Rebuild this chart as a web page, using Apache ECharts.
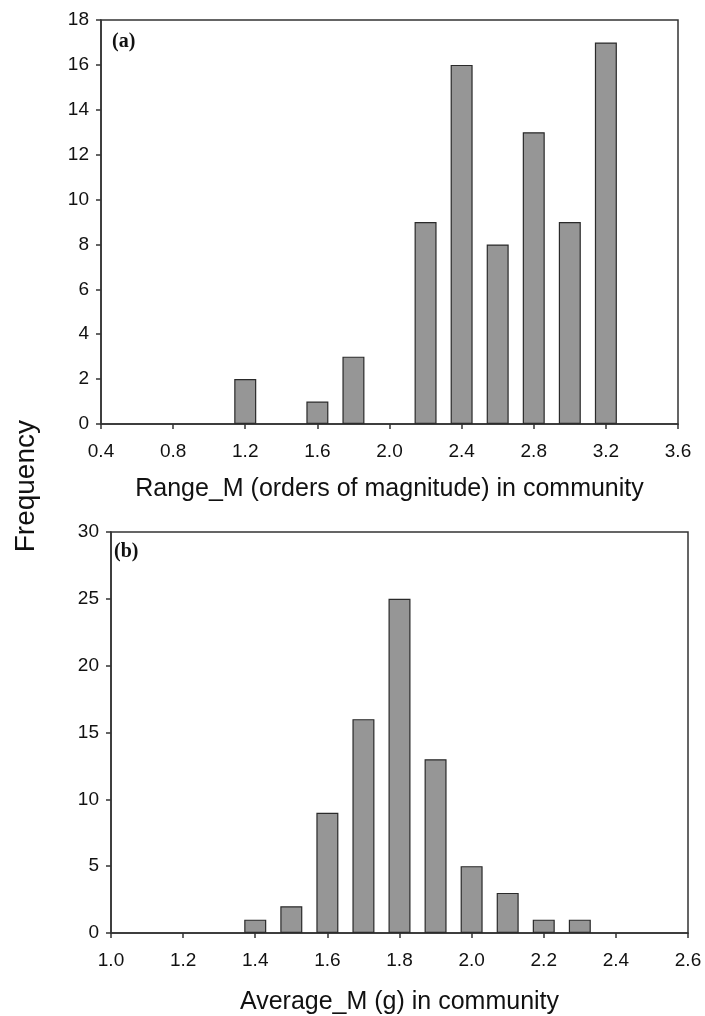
<!DOCTYPE html>
<html><head><meta charset="utf-8">
<script src="https://cdn.jsdelivr.net/npm/echarts@6/dist/echarts.min.js"></script>
<style>html,body{margin:0;padding:0;background:#fff}#c{width:705px;height:1016px}</style>
</head><body><div id="c"></div>
<script>
// Panel (a): Range_M
const rangeBins = [1.2, 1.6, 1.8, 2.2, 2.4, 2.6, 2.8, 3.0, 3.2];
const rangeFreq = [2, 1, 3, 9, 16, 8, 13, 9, 17];
// Panel (b): Average_M
const avgBins = [1.4, 1.5, 1.6, 1.7, 1.8, 1.9, 2.0, 2.1, 2.2, 2.3];
const avgFreq = [1, 2, 9, 16, 25, 13, 5, 3, 1, 1];

const chart = echarts.init(document.getElementById('c'), null, {renderer: 'canvas'});
const FONT = 'Liberation Sans, Arial, sans-serif';
const axisLine = {lineStyle: {color: '#333', width: 1.5}};
const tickStyle = {show: true, inside: false, length: 5, lineStyle: {color: '#333', width: 1.5}};
const labelFont = {color: '#111', fontSize: 19, fontFamily: FONT};
function xAx(i, min, max, interval, name, gap) {
  return {type: 'value', gridIndex: i, min, max, interval,
    axisLine: Object.assign({onZero: false}, axisLine), axisTick: tickStyle,
    axisLabel: Object.assign({margin: 18, formatter: v => v.toFixed(1)}, labelFont),
    splitLine: {show: false},
    name, nameLocation: 'middle', nameGap: gap,
    nameTextStyle: {color: '#111', fontSize: 25, fontFamily: FONT}};
}
function yAx(i, max, interval) {
  return {type: 'value', gridIndex: i, min: 0, max, interval,
    axisLine: Object.assign({show: true}, axisLine), axisTick: tickStyle,
    axisLabel: Object.assign({margin: 12}, labelFont), splitLine: {show: false}};
}
const barStyle = {color: '#969696', borderColor: '#2a2a2a', borderWidth: 1.2};
chart.setOption({
  animation: false,
  grid: [
    {left: 101, top: 20, width: 577, height: 404, show: true, borderColor: '#333', borderWidth: 1.5},
    {left: 111, top: 532, width: 577, height: 404, show: true, borderColor: '#333', borderWidth: 1.5}
  ],
  xAxis: [
    xAx(0, 0.4, 3.6, 0.4, 'Range_M (orders of magnitude) in community', 53),
    xAx(1, 1.0, 2.6, 0.2, 'Average_M (g) in community', 57)
  ],
  yAxis: [yAx(0, 18, 2), yAx(1, 30, 5)],
  graphic: [
    {type: 'text', left: 12, top: 420, rotation: Math.PI / 2, style: {text: 'Frequency', fill: '#111', font: '28px "Liberation Sans", Arial, sans-serif'}},
    {type: 'text', left: 112, top: 32, style: {text: '(a)', fill: '#111', font: 'bold 20px "Liberation Serif", "Times New Roman", serif'}},
    {type: 'text', left: 114, top: 542, style: {text: '(b)', fill: '#111', font: 'bold 20px "Liberation Serif", "Times New Roman", serif'}}
  ],
  series: [
    {type: 'bar', xAxisIndex: 0, yAxisIndex: 0, barWidth: 22, itemStyle: barStyle,
      data: rangeBins.map((x, i) => [x, rangeFreq[i]])},
    {type: 'bar', xAxisIndex: 1, yAxisIndex: 1, barWidth: 22, itemStyle: barStyle,
      data: avgBins.map((x, i) => [x, avgFreq[i]])}
  ]
});
</script></body></html>
